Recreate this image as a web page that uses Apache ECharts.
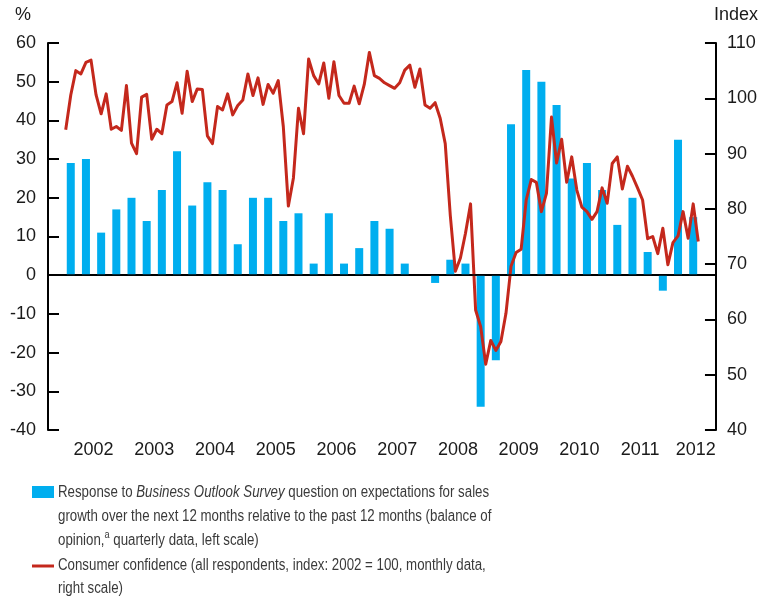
<!DOCTYPE html>
<html>
<head>
<meta charset="utf-8">
<script src="https://cdn.jsdelivr.net/npm/echarts@6/dist/echarts.min.js"></script>
<style>
  html, body { margin: 0; padding: 0; background: #fff; }
  #chart { width: 760px; height: 601px; }
</style>
</head>
<body>
<div id="chart"></div>
<script>
// quarterly balance of opinion, 2002 Q1 .. 2012 Q2 (left scale, %)
const salesExpectations = [
  29, 30, 11, 17,
  20, 14, 22, 32,
  18, 24, 22, 8,
  20, 20, 14, 16,
  3, 16, 3, 7,
  14, 12, 3, 0,
  -2, 4, 3, -34,
  -22, 39, 53, 50,
  44, 25, 29, 22,
  13, 20, 6, -4,
  35, 15
];

// monthly consumer confidence, Jan 2002 .. Jun 2012 (right scale, index)
const consumerConfidence = [
  94.3, 100.6, 105.0, 104.4, 106.5, 106.9, 100.6, 97.2, 100.8, 94.4, 94.9, 94.2,
  102.3, 91.9, 90.0, 100.2, 100.7, 92.6, 94.4, 93.6, 98.8, 99.4, 102.8, 97.3,
  104.9, 99.4, 101.7, 101.6, 93.2, 91.8, 98.5, 97.9, 100.8, 97.0, 98.7, 99.7,
  104.4, 100.5, 103.7, 98.9, 102.5, 100.9, 103.2, 94.9, 80.5, 85.6, 98.2, 93.6,
  107.1, 104.1, 102.6, 106.4, 100.0, 106.6, 100.5, 99.1, 99.1, 102.2, 99.0, 102.5,
  108.3, 104.1, 103.6, 102.8, 102.3, 101.8, 102.8, 105.1, 106.0, 102.0, 105.3, 98.8,
  98.2, 99.2, 96.4, 91.8, 78.8, 68.7, 71.1, 75.6, 80.9, 61.7, 58.7, 51.9,
  56.2, 54.4, 56.0, 61.1, 69.6, 72.1, 72.7, 81.6, 85.3, 84.8, 79.5, 82.8,
  96.6, 88.3, 92.6, 84.8, 89.4, 83.4, 80.3, 79.5, 78.1, 79.5, 83.8, 81.0,
  88.2, 89.4, 83.6, 87.7, 85.9, 83.8, 81.6, 74.6, 75.0, 71.9, 76.5, 69.9,
  73.9, 75.1, 79.5, 74.7, 80.9, 74.1
];

const leftTicks = { min: -40, max: 60, interval: 10 };
const rightTicks = { min: 40, max: 110, interval: 10 };

// x axis runs monthly from Oct 2001 to Sep 2012
const months = [];
for (let y = 2001, m = 10; y < 2012 || (y === 2012 && m <= 9); m++) {
  if (m > 12) { m = 1; y++; }
  months.push(y + '-' + String(m).padStart(2, '0'));
}
const firstJan = months.indexOf('2002-01');

// bars sit on the middle month of each quarter
const barData = months.map(() => null);
salesExpectations.forEach((v, q) => { barData[firstJan + 1 + q * 3] = v; });

const lineData = months.map(() => null);
consumerConfidence.forEach((v, i) => { lineData[firstJan + i] = v; });

const BLUE = '#00aeef';
const RED = '#c4281c';
const FONT = '"Liberation Sans", Arial, sans-serif';
const LEGEND_COLOR = '#3a3a3a';

const chart = echarts.init(document.getElementById('chart'));

const axisText = { color: '#1a1a1a', fontSize: 18, fontFamily: FONT };

// legend text is set in a condensed face in the original, so squeeze it
function legendLine(text, y, rich) {
  return {
    type: 'text', x: 58, y: y,
    scaleX: 0.83,
    style: {
      text: text,
      font: '16px ' + FONT,
      fill: LEGEND_COLOR,
      verticalAlign: 'middle',
      lineHeight: 24,
      rich: rich
    }
  };
}

chart.setOption({
  animation: false,
  grid: { left: 48, right: 42, top: 43, bottom: 171, containLabel: false },
  xAxis: {
    type: 'category',
    data: months,
    boundaryGap: true,
    axisLine: { lineStyle: { color: '#000', width: 2 } },
    axisTick: {
      inside: true,
      length: 11,
      lineStyle: { color: '#000', width: 2 },
      interval: (i, v) => v.slice(5) === '01'
    },
    axisLabel: {
      ...axisText,
      margin: 11,
      padding: [0, 5, 0, 0],
      interval: (i, v) => v.slice(5) === '07' || v === '2012-06',
      formatter: v => v.slice(0, 4)
    },
    splitLine: { show: false }
  },
  yAxis: [
    {
      type: 'value',
      position: 'left',
      ...leftTicks,
      axisLine: { show: true, lineStyle: { color: '#000', width: 2 } },
      axisTick: { show: true, inside: true, length: 11, lineStyle: { color: '#000', width: 2 } },
      axisLabel: { ...axisText, margin: 12 },
      splitLine: { show: false }
    },
    {
      type: 'value',
      position: 'right',
      ...rightTicks,
      axisLine: { show: true, lineStyle: { color: '#000', width: 2 } },
      axisTick: { show: true, inside: true, length: 11, lineStyle: { color: '#000', width: 2 } },
      axisLabel: { ...axisText, margin: 11 },
      splitLine: { show: false }
    }
  ],
  series: [
    {
      type: 'bar',
      yAxisIndex: 0,
      data: barData,
      barWidth: 8,
      itemStyle: { color: BLUE },
      markLine: {
        silent: true,
        symbol: 'none',
        label: { show: false },
        lineStyle: { color: '#000', width: 1.5, type: 'solid' },
        data: [{ yAxis: 0 }]
      }
    },
    {
      type: 'line',
      yAxisIndex: 1,
      data: lineData,
      showSymbol: false,
      connectNulls: false,
      lineStyle: { color: RED, width: 3, join: 'round' },
      z: 3
    }
  ],
  graphic: [
    { type: 'text', left: 15, top: 6, style: { text: '%', font: '18px ' + FONT, fill: '#1a1a1a' } },
    { type: 'text', right: 2, top: 6, style: { text: 'Index', font: '18px ' + FONT, fill: '#1a1a1a' } },
    // legend
    { type: 'rect', shape: { x: 32, y: 486, width: 22, height: 12 }, style: { fill: BLUE } },
    { type: 'rect', shape: { x: 32, y: 564.5, width: 22, height: 3 }, style: { fill: RED } },
    legendLine('Response to {i|Business Outlook Survey} question on expectations for sales', 493, {
      i: { fontStyle: 'italic', fontSize: 16, fontFamily: FONT, fill: LEGEND_COLOR, lineHeight: 24 }
    }),
    legendLine('growth over the next 12 months relative to the past 12 months (balance of', 517),
    legendLine('opinion,{sup|a} quarterly data, left scale)', 541, {
      sup: { fontSize: 11, fontFamily: FONT, fill: LEGEND_COLOR, verticalAlign: 'top', lineHeight: 13 }
    }),
    legendLine('Consumer confidence (all respondents, index: 2002 = 100, monthly data,', 566),
    legendLine('right scale)', 589)
  ]
});
</script>
</body>
</html>
